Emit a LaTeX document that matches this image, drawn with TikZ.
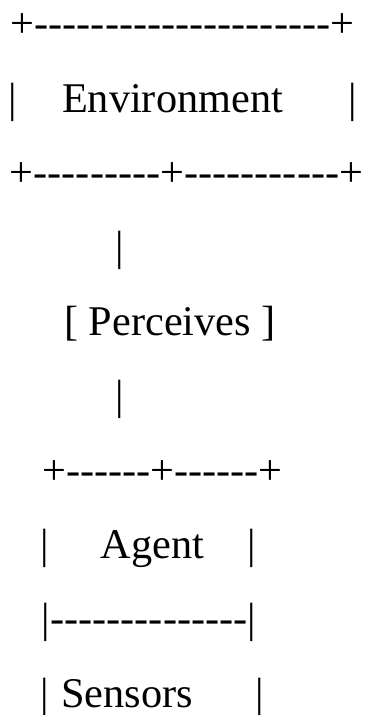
\documentclass[tikz,border=0pt]{standalone}
\usepackage{fontspec}
\newfontfamily\asciifont{Liberation Serif}
\usetikzlibrary{positioning}

% a run of plain hyphens (kerns stop them joining into dashes)
\newcommand\dashrun[1]{\foreach \k in {1,...,#1}{-\kern0pt}}

\tikzset{ascii/.style={anchor=base, inner sep=0pt, outer sep=0pt,
  font=\asciifont\fontsize{42.3}{50}\selectfont}}

\begin{document}
\begin{tikzpicture}[x=1pt, y=-1pt]
    \useasboundingbox (0,0) rectangle (365,715);

    % Environment box
    \node[ascii] (envtop) at (182.5,37.6) {+\dashrun{21}+};
    \node[ascii] (envleft) at (13,112) {|};
    \node[ascii] (envlabel) at (172.5,112) {Environment};
    \node[ascii] (envright) at (353,112) {|};
    \node[ascii] (envbottom) at (186.5,186.4) {+\dashrun{9}+\dashrun{11}+};

    % Perceives link
    \node[ascii] (linkup) at (120,260.8) {|};
    \node[ascii] (perceives) at (170,335.2) {[ Perceives ]};
    \node[ascii] (linkdown) at (120,409.6) {|};

    % Agent box
    \node[ascii] (agenttop) at (162.5,484) {+\dashrun{6}+\dashrun{6}+};
    \node[ascii] (agentleft) at (45,558.4) {|};
    \node[ascii] (agentlabel) at (152.5,558.4) {Agent};
    \node[ascii] (agentright) at (252,558.4) {|};
    \node[ascii] (agentsplit) at (149,632.8) {|\dashrun{14}|};

    % Sensors row
    \node[ascii] (sensleft) at (45,707.2) {|};
    \node[ascii] (senslabel) at (127,707.2) {Sensors};
    \node[ascii] (sensright) at (260,707.2) {|};
\end{tikzpicture}
\end{document}
